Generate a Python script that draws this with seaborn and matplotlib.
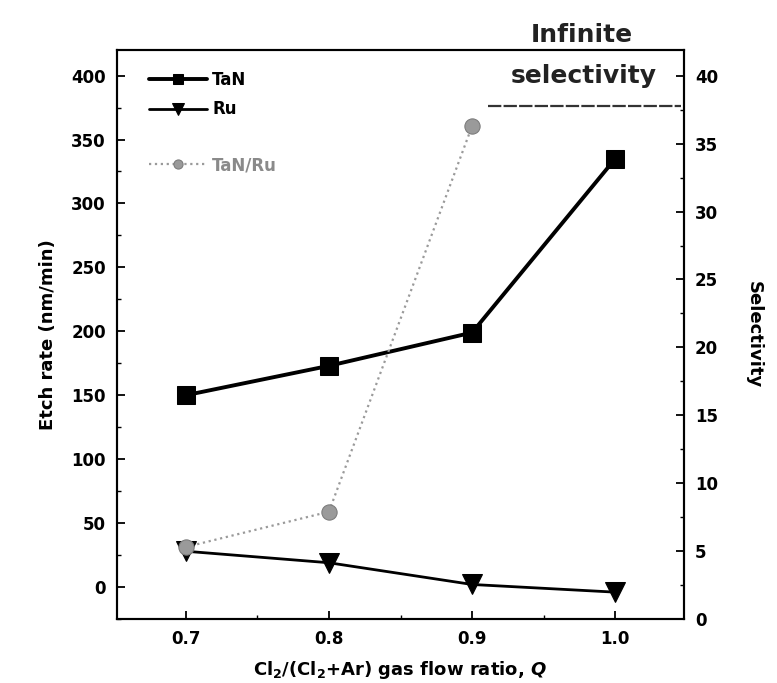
import pandas as pd
import matplotlib
matplotlib.use('Agg')
import matplotlib.pyplot as plt
import seaborn as sns
from matplotlib.ticker import MultipleLocator

# data
q = [0.7, 0.8, 0.9, 1.0]
tan_rate = [150, 173, 199, 335]      # nm/min
ru_rate = [28, 19, 2, -4]            # nm/min
q_sel = [0.7, 0.8, 0.9]
selectivity = [5.3, 7.9, 36.3]       # TaN/Ru, 1.0 is infinite
infinite_level = 37.8

rates = pd.DataFrame({'Q': q, 'TaN': tan_rate, 'Ru': ru_rate})
sel = pd.DataFrame({'Q': q_sel, 'TaN/Ru': selectivity})

sns.set_style('ticks', {'axes.edgecolor': 'black', 'text.color': 'black',
                        'xtick.color': 'black', 'ytick.color': 'black',
                        'axes.labelcolor': 'black'})
plt.rcParams['font.family'] = ['DejaVu Sans']
plt.rcParams['font.weight'] = 'bold'

fig = plt.figure(figsize=(7.77, 6.83), dpi=100)
ax = fig.add_axes([0.1506, 0.0937, 0.7297, 0.8331])
ax2 = ax.twinx()

sns.lineplot(data=rates, x='Q', y='TaN', ax=ax, color='black', marker='s', markersize=13,
             linewidth=2.8, markeredgecolor='black', label='TaN')
sns.lineplot(data=rates, x='Q', y='Ru', ax=ax, color='black', marker='v', markersize=14,
             linewidth=2.0, markeredgecolor='black', label='Ru')
sns.lineplot(data=sel, x='Q', y='TaN/Ru', ax=ax2, color='#9a9a9a', marker='o', markersize=11,
             linewidth=1.6, linestyle=':', markeredgecolor='#7a7a7a', label='TaN/Ru')

# infinite selectivity marker line
ax2.axhline(infinite_level, xmin=0.655, xmax=0.995, color='#333333', linewidth=1.6,
            linestyle=(0, (6, 1)))
fig.text(0.749, 0.949, 'Infinite', ha='center', va='center', fontsize=18,
         fontweight='bold', color='#222222')
fig.text(0.751, 0.889, 'selectivity', ha='center', va='center', fontsize=18,
         fontweight='bold', color='#222222')

ax.set_xlim(0.652, 1.048)
ax.set_ylim(-25, 420)
ax2.set_ylim(0, 41.9)

ax.set_xticks(q)
ax.set_xticklabels(['0.7', '0.8', '0.9', '1.0'])
ax.set_yticks(range(0, 401, 50))
ax2.set_yticks(range(0, 41, 5))
ax.xaxis.set_minor_locator(MultipleLocator(0.05))
ax.yaxis.set_minor_locator(MultipleLocator(25))
ax2.yaxis.set_minor_locator(MultipleLocator(2.5))

ax.tick_params(axis='both', which='major', direction='in', length=6, width=1.3,
               labelsize=12, pad=8, colors='black')
ax.tick_params(axis='both', which='minor', direction='in', length=3, width=1)
ax2.tick_params(axis='y', which='major', direction='in', length=6, width=1.3,
                labelsize=12, pad=8, colors='black')
ax2.tick_params(axis='y', which='minor', direction='in', length=3, width=1)
for a in (ax, ax2):
    for lab in a.get_xticklabels() + a.get_yticklabels():
        lab.set_fontweight('bold')
    for sp in a.spines.values():
        sp.set_linewidth(1.5)
        sp.set_color('black')
        sp.set_visible(True)

ax.set_xlabel('Cl$_\\mathbf{2}$/(Cl$_\\mathbf{2}$+Ar) gas flow ratio, $\\mathbfit{Q}$',
              fontsize=13, fontweight='bold', labelpad=8, color='black')
ax.set_ylabel('Etch rate (nm/min)', fontsize=13, fontweight='bold', labelpad=10, color='black')
ax2.set_ylabel('Selectivity', fontsize=13, fontweight='bold', rotation=270, labelpad=32,
               color='black')

ax.legend(loc='upper left', bbox_to_anchor=(0.03, 0.99), frameon=False, fontsize=12,
          handlelength=3.5, labelspacing=0.7, handletextpad=0.3, markerscale=0.6)
leg2 = ax2.legend(loc='upper left', bbox_to_anchor=(0.03, 0.84), frameon=False, fontsize=12,
                  handlelength=3.5, handletextpad=0.3, markerscale=0.6)
for t in leg2.get_texts():
    t.set_color('#8a8a8a')

plt.savefig('out.png', dpi=100)
